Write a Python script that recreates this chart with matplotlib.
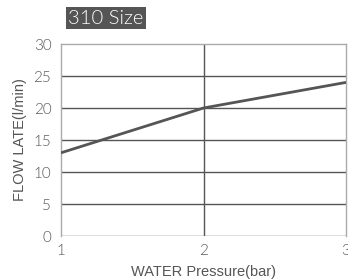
import matplotlib.pyplot as plt

# data
pressure = [1, 2, 3]
flow = [13, 20, 24]
y_ticks = [0, 5, 10, 15, 20, 25, 30]
x_ticks = [1, 2, 3]

plt.rcParams['font.family'] = ['Lato', 'DejaVu Sans']

fig = plt.figure(figsize=(3.48, 2.80), dpi=100)
ax = fig.add_axes([61 / 348, 1 - 236 / 280, 285 / 348, 192 / 280])

ax.plot(pressure, flow, color='#555555', lw=2, solid_capstyle='butt', zorder=3)

ax.set_xlim(1, 3)
ax.set_ylim(0, 30)
ax.set_xticks(x_ticks)
ax.set_yticks(y_ticks)

# grid lines
for y in y_ticks[:-1]:
    ax.axhline(y, color='#555555', lw=1, zorder=1)
ax.axvline(2, color='#555555', lw=1, zorder=1)

for side in ['left', 'top', 'right']:
    ax.spines[side].set_color('#aaaaaa')
    ax.spines[side].set_linewidth(1)
ax.spines['bottom'].set_visible(False)

ax.tick_params(length=0, labelsize=11, labelcolor='#555555')
ax.tick_params(axis='y', pad=7)
ax.tick_params(axis='x', pad=6)
for lbl in ax.get_xticklabels() + ax.get_yticklabels():
    lbl.set_fontweight(300)

ax.set_xlabel('WATER Pressure(bar)', fontsize=10.5, color='#555555',
              family='Liberation Sans', labelpad=5)
ax.set_ylabel('FLOW LATE(l/min)', fontsize=10.5, color='#555555',
              family='Liberation Sans', labelpad=5)

fig.text(68 / 348, 1 - 18 / 280, '310 Size', fontsize=14.5, color='white',
         fontweight=300, va='center', ha='left',
         bbox=dict(boxstyle='square,pad=0.12', fc='#555555', ec='none'))

fig.savefig('out.png', dpi=100)
